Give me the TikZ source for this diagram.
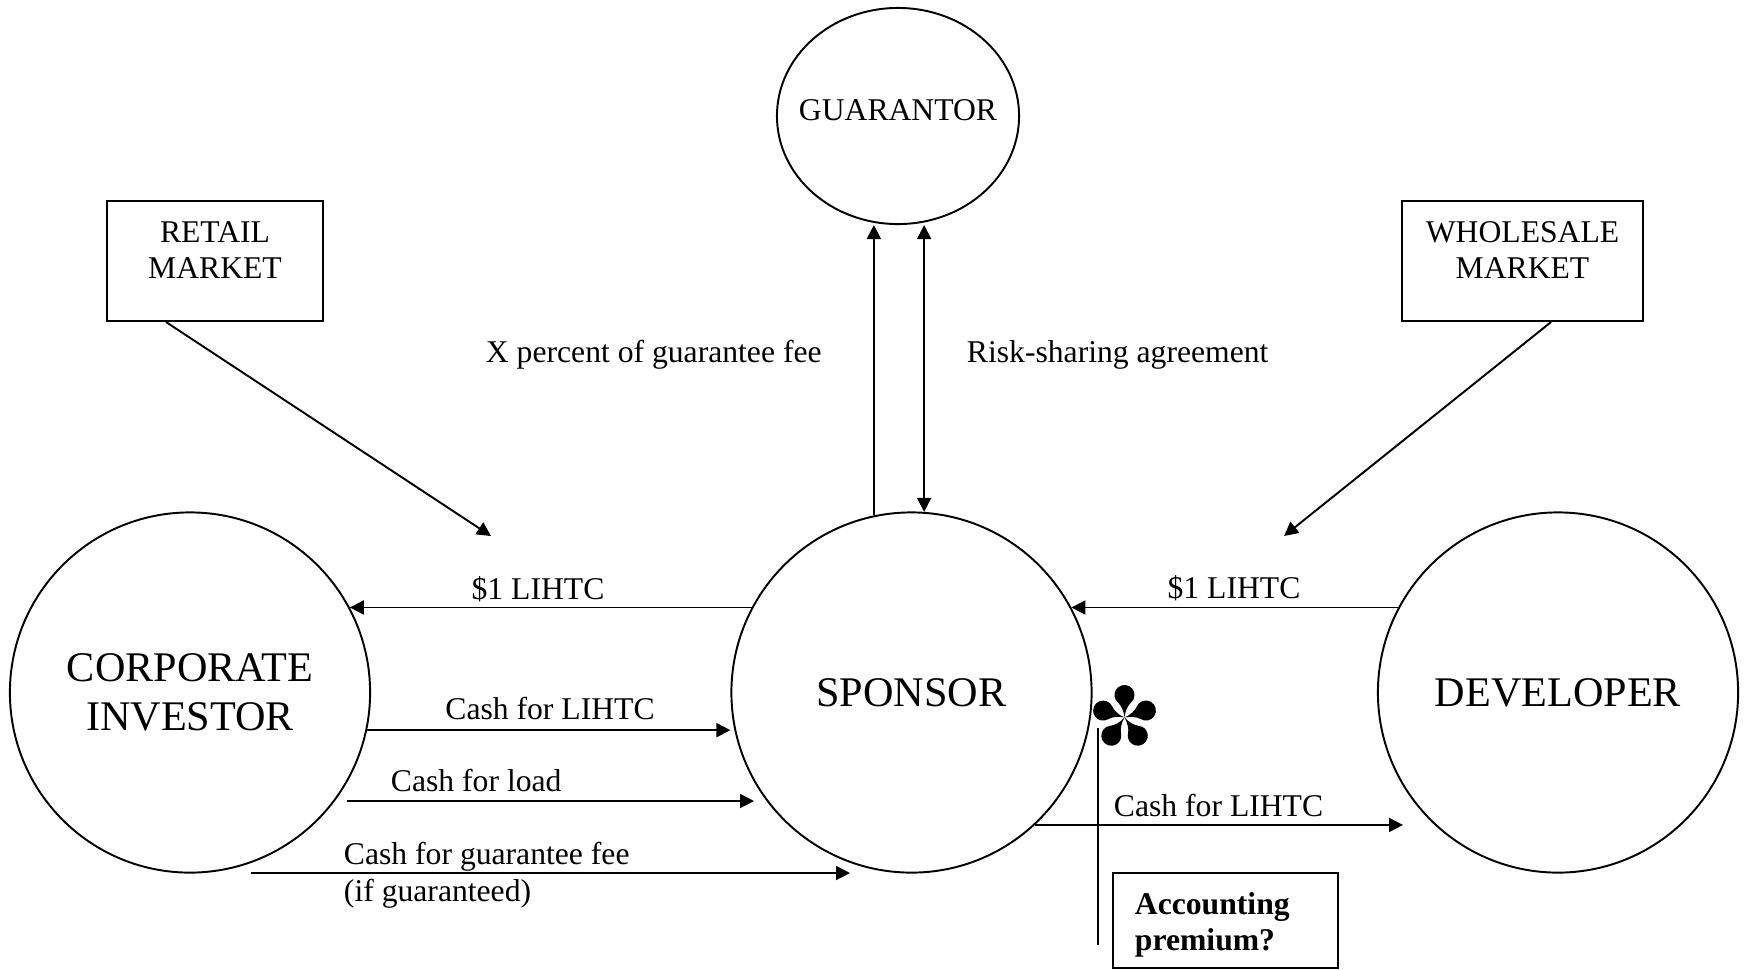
\documentclass[tikz,border=0pt]{standalone}
\usepackage{fontspec}
\setmainfont{Liberation Serif}
\usetikzlibrary{arrows.meta,shapes.geometric,calc}
\begin{document}
\begin{tikzpicture}[x=0.01cm,y=-0.01cm,line width=0.55pt,
  arr/.style={-{Triangle[length=0.14cm,width=0.14cm]}},
  darr/.style={{Triangle[length=0.14cm,width=0.14cm]}-{Triangle[length=0.14cm,width=0.14cm]}},
  bigcirc/.style={circle,draw,minimum size=3.6cm,inner sep=0pt,align=center,font=\fontsize{12}{14}\selectfont},
  guarell/.style={ellipse,draw,minimum width=2.42cm,minimum height=2.16cm,inner sep=0pt,text height=0.08cm,text depth=0pt,font=\fontsize{9}{10.5}\selectfont},
  mktbox/.style={draw,rectangle,minimum height=1.2cm,inner sep=0pt},
  lab/.style={inner sep=0pt,font=\fontsize{9}{10.5}\selectfont},
  acctbox/.style={draw,rectangle,inner xsep=0.22cm,inner ysep=0pt,minimum height=0.95cm,text width=1.81cm,align=left,font=\fontsize{9}{10.3}\selectfont\bfseries}]
\useasboundingbox (0,0) rectangle (1749,969);

% main nodes
\node[guarell] (guarantor) at (898,116) {\makebox[0pt]{GUARANTOR}};
\node[bigcirc] (corporate) at (190,692.5) {CORPORATE\\INVESTOR};
\node[bigcirc] (sponsor) at (911.5,692.5) {SPONSOR};
\node[bigcirc] (developer) at (1558,692.5) {DEVELOPER};
\node[mktbox,minimum width=2.16cm] (retail) at (215,261) {};
\node[mktbox,minimum width=2.41cm] (wholesale) at (1522.5,261) {};
\node[lab,align=center,font=\fontsize{9}{10.3}\selectfont] (retailtxt) at (215,250) {RETAIL\\MARKET};
\node[lab,align=center,font=\fontsize{9}{10.3}\selectfont] (wholesaletxt) at (1522.5,250) {WHOLESALE\\MARKET};
\node[acctbox] (acct) at (1225.5,920.5) {\rule{0pt}{0.31cm}Accounting\\premium?};

% asterisk (five teardrop lobes)
\coordinate (star) at (1124.5,717.5);
\begin{scope}[shift={(star)},x=0.01cm,y=0.01cm]
  \foreach \a in {18,90,162,234,306}
    \fill[rotate=\a] (0,0) .. controls (6,-0.5) and (12.27,-3.37) .. (14.84,-6.43)
      arc[start angle=-140,end angle=140,radius=0.1cm]
      .. controls (12.27,3.37) and (6,0.5) .. (0,0) -- cycle;
\end{scope}

% free ends
\coordinate (rtip) at (491,536);
\coordinate (wtip) at (1284,536);
\coordinate (loadS) at (347,801);
\coordinate (loadE) at (754,801);
\coordinate (feeS) at (251,873);
\coordinate (feeE) at (850,873);
\coordinate (devtip) at (1403,824);
\coordinate (vtop) at (1098,728);
\coordinate (vbot) at (1098,945);

% connectors
\draw[arr] ([xshift=0.6cm]retail.south west) -- (rtip);
\draw[arr] ([xshift=1.5cm]wholesale.south west) -- (wtip);
\draw[arr] (sponsor.102) -- (sponsor.102 |- guarantor.south);
\draw[darr] (sponsor.86 |- guarantor.south) -- (sponsor.86);
\draw[arr] (sponsor.152) -- (corporate.28);
\draw[arr] (corporate.-12) -- (corporate.-12 -| sponsor.west);
\draw[arr] (loadS) -- (loadE);
\draw[arr] (feeS) -- (feeE);
\draw[arr] (developer.152) -- (sponsor.28);
\draw[arr] (sponsor.-47) -- (sponsor.-47 -| devtip);
\draw (vtop) -- (vbot);

% labels
\node[lab,anchor=base west] (xpct) at (485,362) {X percent of guarantee fee};
\node[lab,anchor=base west] (risk) at (966,362) {Risk-sharing agreement};
\node[lab,anchor=base] (lihtcL) at (538,599) {\$1 LIHTC};
\node[lab,anchor=base] (cashL) at (550,719) {Cash for LIHTC};
\node[lab,anchor=base west] (load) at (390,791) {Cash for load};
\node[lab,anchor=north west,align=left] (fee) at (343,841) {Cash for guarantee fee\\(if guaranteed)};
\node[lab,anchor=base] (lihtcR) at (1234,598) {\$1 LIHTC};
\node[lab,anchor=base west] (cashR) at (1113,816) {Cash for LIHTC};
\end{tikzpicture}
\end{document}
